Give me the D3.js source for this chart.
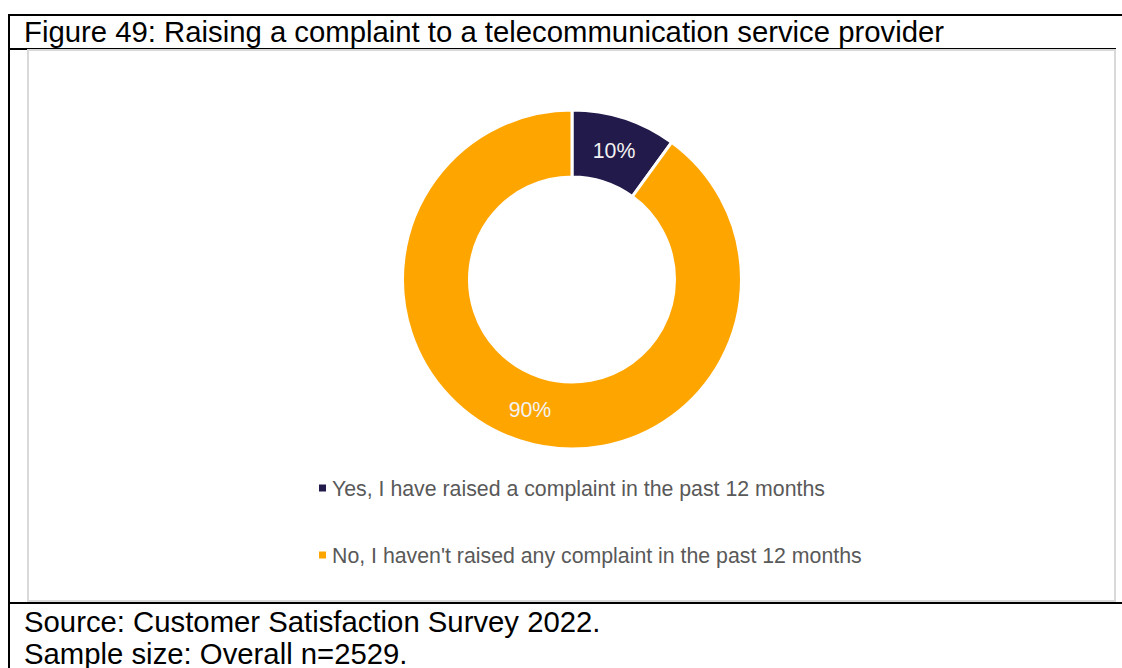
<!DOCTYPE html>
<html>
<head>
<meta charset="utf-8">
<script src="https://cdn.jsdelivr.net/npm/d3@7"></script>
<style>
  html, body { margin: 0; padding: 0; background: #fff; }
  svg { display: block; font-family: "Liberation Sans", Arial, sans-serif; }
</style>
</head>
<body>
<svg id="chart" width="1122" height="668"></svg>
<script>
const categories = [
  "Yes, I have raised a complaint in the past 12 months",
  "No, I haven't raised any complaint in the past 12 months"
];
const values = [10, 90];
const labels = ["10%", "90%"];
const colors = ["#221A4A", "#FFA500"];
const titleText = "Figure 49: Raising a complaint to a telecommunication service provider";
const notes = ["Source: Customer Satisfaction Survey 2022.", "Sample size: Overall n=2529."];

const svg = d3.select("#chart");

// table lines
const lines = [
  [8, 15, 1122, 15],
  [8, 49, 1116, 49],
  [8, 603, 1122, 603],
  [9, 15, 9, 668]
];
svg.selectAll("line.tbl").data(lines).join("line")
  .attr("class", "tbl")
  .attr("x1", d => d[0]).attr("y1", d => d[1])
  .attr("x2", d => d[2]).attr("y2", d => d[3])
  .attr("stroke", "#000").attr("stroke-width", 2);

// chart frame
svg.append("rect")
  .attr("x", 28).attr("y", 50).attr("width", 1087).attr("height", 551)
  .attr("fill", "#fff").attr("stroke", "#D9D9D9").attr("stroke-width", 2);

// title
svg.append("text").attr("x", 24).attr("y", 42)
  .attr("font-size", 29.3).attr("fill", "#000").text(titleText);

// notes
svg.selectAll("text.note").data(notes).join("text")
  .attr("class", "note")
  .attr("x", 24).attr("y", (d, i) => 632 + i * 32)
  .attr("font-size", 29.3).attr("fill", "#000").text(d => d);

// donut
const cx = 572, cy = 279.5, rOut = 169.5, rIn = 102.5;
const pie = d3.pie().sort(null).value(d => d);
const arcs = pie(values);
const arc = d3.arc().innerRadius(rIn).outerRadius(rOut);
const g = svg.append("g").attr("transform", `translate(${cx},${cy})`);
g.selectAll("path").data(arcs).join("path")
  .attr("d", arc)
  .attr("fill", (d, i) => colors[i])
  .attr("stroke", "#fff").attr("stroke-width", 3);
g.selectAll("text").data(arcs).join("text")
  .attr("transform", d => `translate(${arc.centroid(d)})`)
  .attr("text-anchor", "middle").attr("dy", "0.36em")
  .attr("font-size", 21.3).attr("fill", "#F2F2F2")
  .text((d, i) => labels[i]);

// legend
const legendY = [488, 555];
const lg = svg.selectAll("g.leg").data(categories).join("g")
  .attr("class", "leg")
  .attr("transform", (d, i) => `translate(319,${legendY[i]})`);
lg.append("rect").attr("x", 0).attr("y", -3.5).attr("width", 7).attr("height", 7)
  .attr("fill", (d, i) => colors[i]);
lg.append("text").attr("x", 13).attr("dy", "0.36em")
  .attr("font-size", 21.3).attr("fill", "#595959").text(d => d);
</script>
</body>
</html>
